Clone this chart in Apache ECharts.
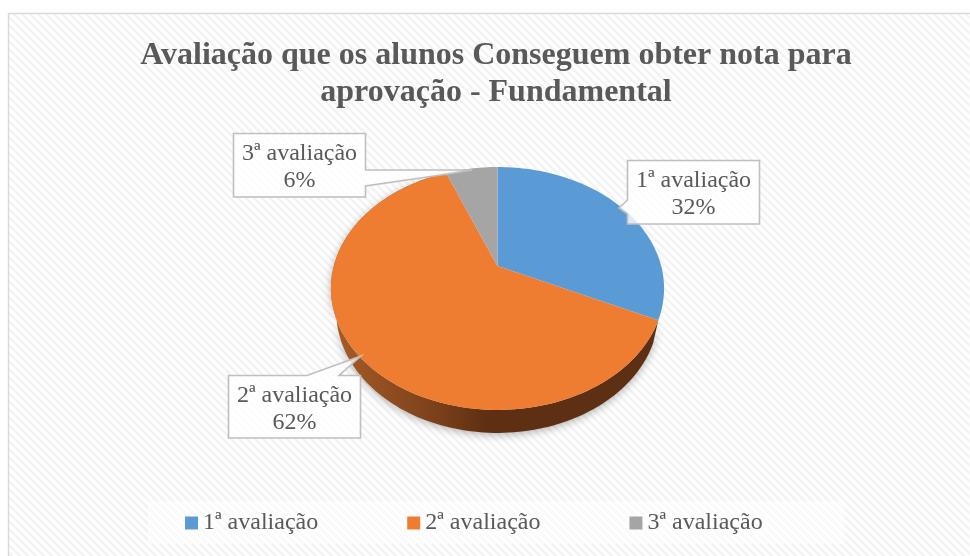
<!DOCTYPE html>
<html><head><meta charset="utf-8">
<style>html,body{margin:0;padding:0;background:#fff}#c{width:970px;height:556px}</style>
<script src="https://cdn.jsdelivr.net/npm/echarts@6/dist/echarts.min.js"></script>
</head><body><div id="c"></div>
<script>
var titleLines = ['Avaliação que os alunos Conseguem obter nota para', 'aprovação - Fundamental'];
var categories = ['1ª avaliação', '2ª avaliação', '3ª avaliação'];
var values = [32, 62, 6];
var colors = ['#5B9BD5', '#EF7D31', '#A5A5A5'];

var total = values.reduce(function (a, b) { return a + b; }, 0);
var P = { cx: 497.5, cy: 266, a: 163.7, b: 117.3, k: -0.185, depth: 23, wallX: 0.968 };
function proj(frac, dy, sx) {
  var t = frac * 2 * Math.PI, u = Math.sin(t), v = -Math.cos(t), d = 1 + P.k * v;
  return [P.cx + (sx || 1) * P.a * u / d, P.cy + P.b * v / d + (dy || 0)];
}
function arc(f0, f1, dy, sx) {
  var pts = [], n = Math.max(2, Math.ceil((f1 - f0) * 240));
  for (var i = 0; i <= n; i++) pts.push(proj(f0 + (f1 - f0) * i / n, dy, sx));
  return pts;
}
var pat = document.createElement('canvas');
pat.width = 8; pat.height = 8;
(function () {
  var g = pat.getContext('2d');
  g.fillStyle = '#ffffff'; g.fillRect(0, 0, 8, 8);
  g.strokeStyle = '#f3f3f3'; g.lineWidth = 2.6;
  [[-4, -4, 12, 12], [-4, 4, 4, 12], [4, -4, 12, 4]].forEach(function (s) {
    g.beginPath(); g.moveTo(s[0], s[1]); g.lineTo(s[2], s[3]); g.stroke();
  });
})();

var seriesList = [{
  type: 'custom', name: 'wall', silent: true, z: 1, coordinateSystem: 'none',
  data: [[values[0] / total, (values[0] + values[1]) / total]],
  renderItem: function (params, api) {
    var f0 = api.value(0), f1 = api.value(1);
    var top = arc(f0, f1), low = arc(f0, f1, P.depth, P.wallX).reverse();
    return { type: 'polygon', shape: { points: top.concat(low) }, style: {
      fill: new echarts.graphic.LinearGradient(0, 0, 1, 0, [
        { offset: 0, color: '#A85C26' }, { offset: 0.3, color: '#7E431B' },
        { offset: 0.48, color: '#5E2F12' }, { offset: 1, color: '#5E3013' }
      ]),
      shadowBlur: 8, shadowColor: 'rgba(0,0,0,0.3)', shadowOffsetY: 2
    } };
  }
}];
var acc = 0;
categories.forEach(function (name, i) {
  var f0 = acc / total; acc += values[i]; var f1 = acc / total;
  seriesList.push({
    type: 'custom', name: name, coordinateSystem: 'none', z: 2,
    itemStyle: { color: colors[i] },
    data: [[f0, f1]],
    renderItem: function (params, api) {
      return { type: 'polygon', shape: { points: [[P.cx, P.cy]].concat(arc(api.value(0), api.value(1))) },
               style: { fill: colors[i] } };
    }
  });
});

var boxes = [
  { x: 627.5, y: 160.5, w: 132, h: 63.5, tip: [619, 208], p0: [627.5, 200], p1: [627.5, 214] },
  { x: 228.5, y: 375.5, w: 132, h: 62.5, tip: [361, 356], p0: [307, 375.5], p1: [339, 375.5] },
  { x: 233.5, y: 133.5, w: 132, h: 63.5, tip: [472, 170], p0: [365.5, 170], p1: [365.5, 186], tip2: [448, 174] }
];
function callout(b) {
  var r = b.x + b.w, m = b.y + b.h, pts;
  if (b.p0[0] === b.x) pts = [[b.x, b.y], [r, b.y], [r, m], [b.x, m], b.p1, b.tip, b.p0];
  else if (b.p0[1] === b.y) pts = [[b.x, b.y], b.p0, b.tip, b.p1, [r, b.y], [r, m], [b.x, m]];
  else pts = [[b.x, b.y], [r, b.y], b.p0, b.tip, b.tip2 || b.tip, b.p1, [r, m], [b.x, m]];
  return pts;
}
var graphics = [{
  type: 'rect', z: -10, silent: true,
  shape: { x: 8.5, y: 13.5, width: 970, height: 560 },
  style: { fill: { image: pat, repeat: 'repeat' }, stroke: '#D9D9D9', lineWidth: 1.5 }
}];
boxes.forEach(function (b, i) {
  graphics.push({ type: 'polygon', z: 10, silent: true, shape: { points: callout(b) },
    style: { fill: 'rgba(255,255,255,0.8)', stroke: '#BFBFBF', lineWidth: 1.6 } });
  graphics.push({ type: 'text', z: 11, silent: true, x: b.x + b.w / 2, y: b.y + b.h / 2 + 2,
    style: { text: categories[i] + '\n' + values[i] + '%', fill: '#595959', align: 'center', verticalAlign: 'middle',
             font: '24px "Liberation Serif"', lineHeight: 27 } });
});

var chart = echarts.init(document.getElementById('c'), null, { renderer: 'canvas' });
chart.setOption({
  animation: false,
  backgroundColor: 'transparent',
  title: {
    text: titleLines.join('\n'), left: 491, top: 32, textAlign: 'center',
    textStyle: { fontFamily: 'Liberation Serif', fontWeight: 'bold', fontSize: 32, lineHeight: 37, color: '#595959' }
  },
  legend: {
    data: categories, selectedMode: false, left: 148, top: 501,
    padding: [10, 82, 9, 37], itemGap: 89, itemWidth: 13, itemHeight: 13, icon: 'rect',
    backgroundColor: 'rgba(255,255,255,0.6)',
    textStyle: { fontFamily: 'Liberation Serif', fontSize: 24, color: '#595959' }
  },
  series: seriesList,
  graphic: graphics
});
</script></body></html>
